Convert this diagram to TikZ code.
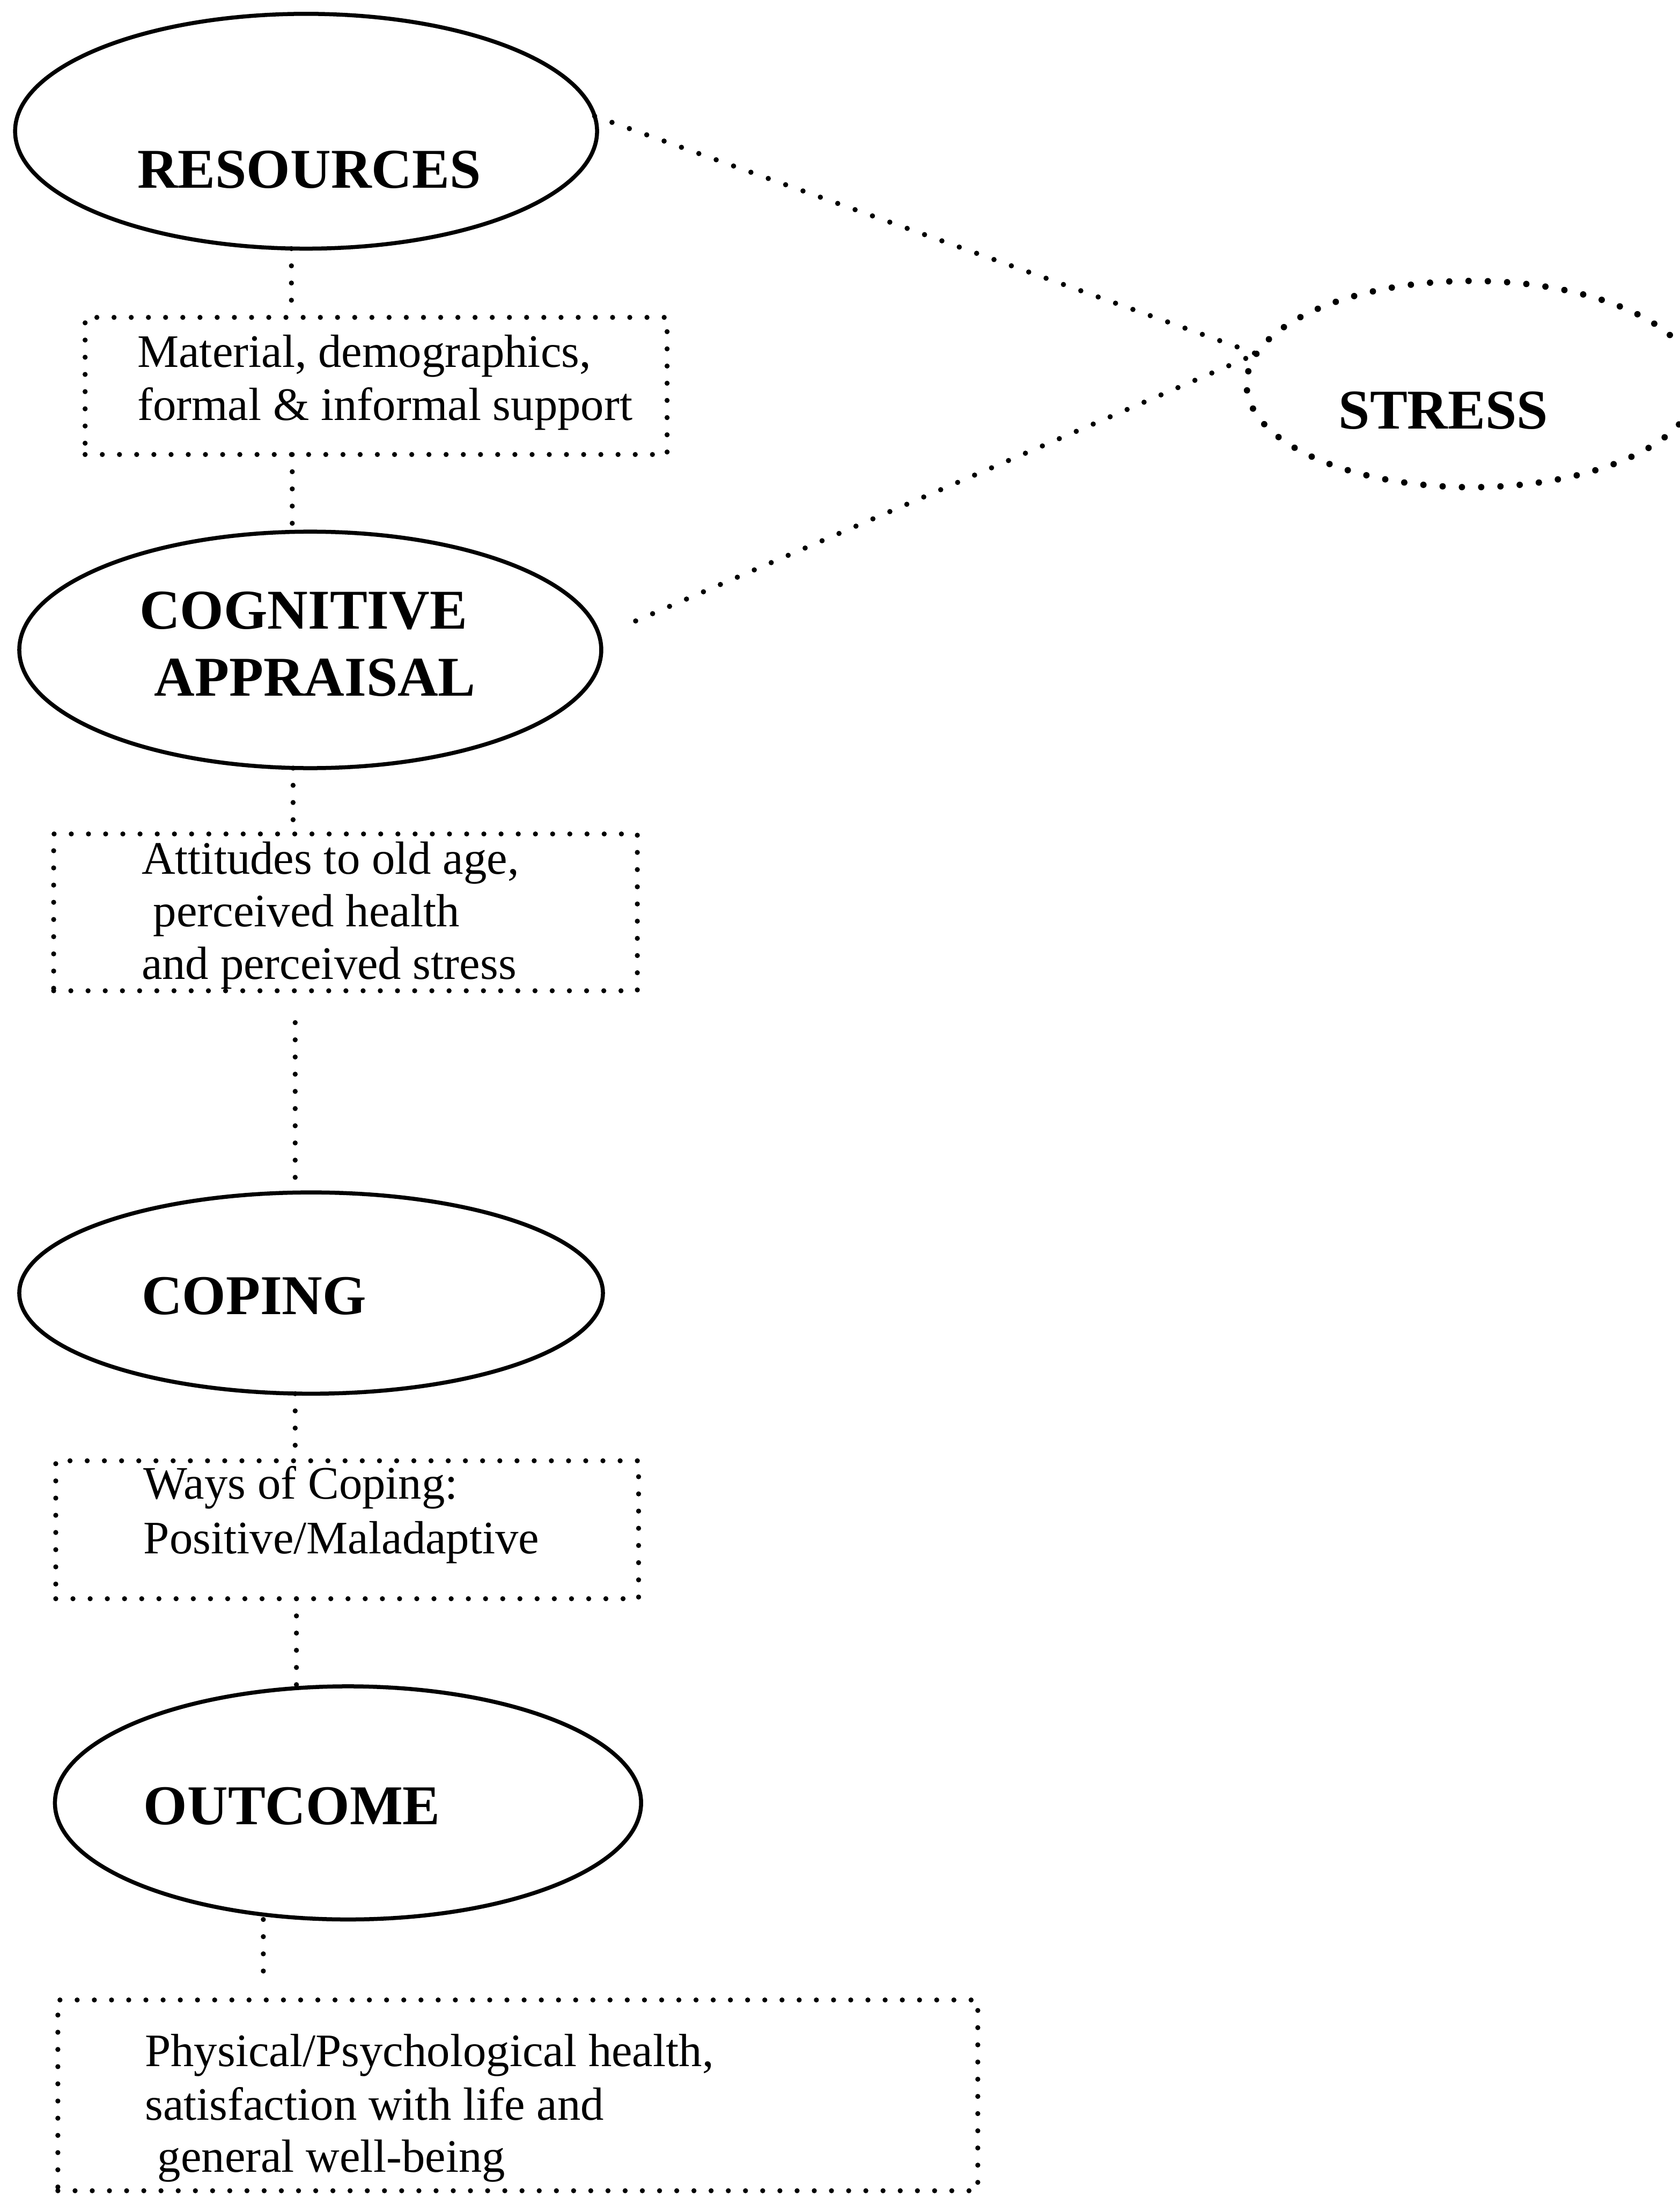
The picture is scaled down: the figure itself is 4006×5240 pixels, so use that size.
\documentclass[tikz,border=0pt]{standalone}
\usepackage{fontspec}
\setmainfont{Liberation Serif}
\usetikzlibrary{shapes.geometric}
\begin{document}
\begin{tikzpicture}[x=0.25pt,y=-0.25pt,
  oval/.style={draw, ellipse, line width=2.4pt, inner sep=0pt, outer sep=0pt},
  dotoval/.style={draw, ellipse, line width=3.8pt, dash pattern=on 0pt off 11.5pt, line cap=round, inner sep=0pt, outer sep=0pt},
  dotbox/.style={draw, rectangle, line width=3pt, dash pattern=on 0pt off 10.25pt, line cap=round, inner sep=0pt, outer sep=0pt},
  conn/.style={line width=3pt, dash pattern=on 0pt off 10.25pt, line cap=round},
  diag/.style={line width=3.1pt, dash pattern=on 0pt off 11pt, line cap=round},
  ttl/.style={font=\fontsize{33.5pt}{39.5pt}\selectfont\bfseries, anchor=base west, inner sep=0pt},
  txt/.style={font=\fontsize{27.75pt}{31.5pt}\selectfont, anchor=base west, inner sep=0pt},
]
\useasboundingbox (0,0) rectangle (4006,5240);

% main ellipses
\node[oval, minimum width=347pt, minimum height=140pt] (res) at (730,313) {};
\node[oval, minimum width=347pt, minimum height=141pt] (cog) at (740,1550) {};
\node[oval, minimum width=348pt, minimum height=120pt] (cop) at (742,3084) {};
\node[oval, minimum width=349.5pt, minimum height=139pt] (out) at (830,4300) {};
\node[dotoval, minimum width=268.5pt, minimum height=123pt] (stress) at (3510,916) {};

% dotted boxes
\node[dotbox, minimum width=347pt, minimum height=81.75pt] (box1) at (897,920.5) {};
\node[dotbox, minimum width=348pt, minimum height=93.5pt] (box2) at (824,2176) {};
\node[dotbox, minimum width=347.5pt, minimum height=82.25pt] (box3) at (828,3648.5) {};
\node[dotbox, minimum width=548.5pt, minimum height=113.75pt] (box4) at (1235,4997.5) {};

% titles
\node[ttl] (tres) at (327,448) {RESOURCES};
\node[ttl] (tcog1) at (332,1500) {COGNITIVE};
\node[ttl] (tcog2) at (367,1660) {APPRAISAL};
\node[ttl] (tstr) at (3192,1023) {STRESS};
\node[ttl] (tcop) at (337,3135) {COPING};
\node[ttl] (tout) at (342,4351) {OUTCOME};

% box texts
\node[txt] (t1a) at (327,876) {Material, demographics,};
\node[txt] (t1b) at (327,1002) {formal \& informal support};
\node[txt] (t2a) at (337,2085) {Attitudes to old age,};
\node[txt] (t2b) at (365,2210) {perceived health};
\node[txt] (t2c) at (337,2335) {and perceived stress};
\node[txt] (t3a) at (342,3575) {Ways of Coping:};
\node[txt] (t3b) at (342,3705) {Positive/Maladaptive};
\node[txt] (t4a) at (345,4929) {Physical/Psychological health,};
\node[txt] (t4b) at (345,5056) {satisfaction with life and};
\node[txt] (t4c) at (375,5180) {general well-being};

% vertical connectors
\coordinate (v1) at (695,0);
\coordinate (v2) at (697,0);
\coordinate (v3) at (699,0);
\coordinate (v4) at (704,0);
\coordinate (v5) at (704,0);
\coordinate (v6) at (707,0);
\coordinate (v7) at (628,0);
\draw[conn] (res.south -| v1) -- (box1.north -| v1);
\draw[conn] (box1.south -| v2) -- (cog.north -| v2);
\draw[conn] (cog.south -| v3) -- (box2.north -| v3);
\draw[conn, shorten <=19pt] (box2.south -| v4) -- (cop.north -| v4);
\draw[conn] (cop.south -| v5) -- (box3.north -| v5);
\draw[conn] (box3.south -| v6) -- (out.north -| v6);
\draw[conn, shorten >=12pt] (out.south -| v7) -- (box4.north -| v7);

% diagonal connectors to STRESS
\coordinate (cogout) at (1516,1481);
\draw[diag] (res.3) -- (stress.172);
\draw[diag] (cogout) -- (stress.172);
\end{tikzpicture}
\end{document}
